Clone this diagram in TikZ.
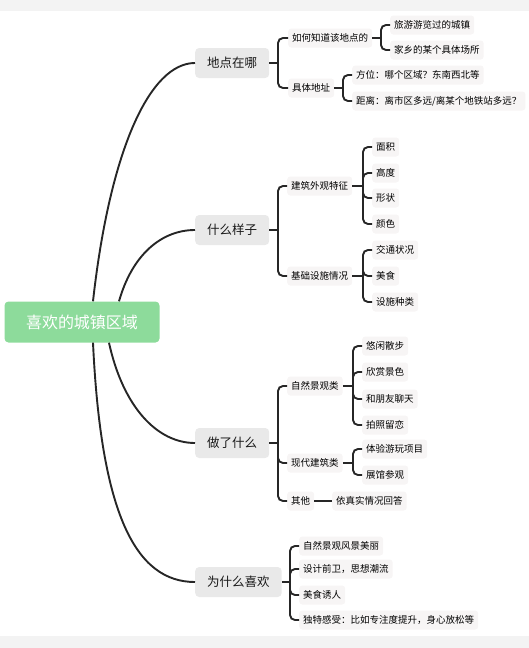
\documentclass[tikz,border=0pt]{standalone}
\usepackage{fontspec}
\setmainfont{Noto Sans CJK SC}
\usetikzlibrary{positioning}

\definecolor{rootgreen}{RGB}{141,219,155}
\definecolor{topicgray}{RGB}{233,233,233}
\definecolor{leafgray}{RGB}{247,245,245}
\definecolor{linegray}{RGB}{38,38,38}
\definecolor{bandgray}{RGB}{243,243,243}

\tikzset{
  root/.style = {fill = rootgreen, text = white, rounded corners = 4pt,
                 minimum width = 155pt, minimum height = 41pt,
                 font = \fontsize{16}{16}\selectfont},
  topic/.style = {fill = topicgray, text = black!90, rounded corners = 4pt,
                  anchor = west, inner xsep = 12pt, minimum height = 30pt,
                  font = \fontsize{12.5}{12.5}\selectfont},
  leaf/.style = {fill = leafgray, text = black, rounded corners = 3pt,
                 anchor = west, inner xsep = 4pt, minimum height = 19pt,
                 font = \fontsize{9.5}{9.5}\selectfont},
  link/.style = {draw = linegray, line width = 1.9pt, rounded corners = 5pt}
}

\begin{document}
\begin{tikzpicture}[x = 1pt, y = -1pt]
  \useasboundingbox (0,0) rectangle (529,648);
  \fill [bandgray] (0,0) rectangle (529,11);
  \fill [bandgray] (0,636) rectangle (529,648);

  \node [root] (root) at (82,322) {喜欢的城镇区域};

  % first level
  \node [topic] (where) at (195,63) {地点在哪};
  \node [topic] (look) at (195,230) {什么样子};
  \node [topic] (did) at (195,443) {做了什么};
  \node [topic] (why) at (195,582) {为什么喜欢};

  \draw [link] ([xshift = 11pt] root.north) .. controls +(17,-152) and +(-45,0) .. (where.west);
  \draw [link] ([xshift = 37pt] root.north) .. controls +(13,-46) and +(-34,0) .. (look.west);
  \draw [link] ([xshift = 27pt] root.south) .. controls +(14,64) and +(-38,0) .. (did.west);
  \draw [link] ([xshift = 11pt] root.south) .. controls +(8,170) and +(-60,0) .. (why.west);

  % 地点在哪
  \node [leaf] (where-a) at (288,38) {如何知道该地点的};
  \node [leaf] (where-b) at (288,88) {具体地址};
  \node [leaf] (where-a1) at (390,25) {旅游游览过的城镇};
  \node [leaf] (where-a2) at (390,50) {家乡的某个具体场所};
  \node [leaf] (where-b1) at (352,75) {方位：哪个区域？东南西北等};
  \node [leaf] (where-b2) at (352,101) {距离：离市区多远/离某个地铁站多远？};

  \coordinate (where-j) at (278,63);
  \coordinate (where-aj) at (381,38);
  \coordinate (where-bj) at (343,88);
  \draw [link] (where.east) -- (where-j);
  \draw [link] (where-a.east) -- (where-aj);
  \draw [link] (where-b.east) -- (where-bj);
  \foreach \n in {where-a, where-b} \draw [link] (where-j) |- (\n.west);
  \foreach \n in {where-a1, where-a2} \draw [link] (where-aj) |- (\n.west);
  \foreach \n in {where-b1, where-b2} \draw [link] (where-bj) |- (\n.west);

  % 什么样子
  \node [leaf] (look-a) at (287,186) {建筑外观特征};
  \node [leaf] (look-b) at (287,276) {基础设施情况};
  \node [leaf] (look-a1) at (372,147) {面积};
  \node [leaf] (look-a2) at (372,173) {高度};
  \node [leaf] (look-a3) at (372,198) {形状};
  \node [leaf] (look-a4) at (372,224) {颜色};
  \node [leaf] (look-b1) at (372,250) {交通状况};
  \node [leaf] (look-b2) at (372,276) {美食};
  \node [leaf] (look-b3) at (372,302) {设施种类};

  \coordinate (look-j) at (278,230);
  \coordinate (look-aj) at (363,186);
  \coordinate (look-bj) at (363,276);
  \draw [link] (look.east) -- (look-j);
  \draw [link] (look-a.east) -- (look-aj);
  \draw [link] (look-b.east) -- (look-bj);
  \foreach \n in {look-a, look-b} \draw [link] (look-j) |- (\n.west);
  \foreach \n in {look-a1, look-a2, look-a3, look-a4} \draw [link] (look-aj) |- (\n.west);
  \foreach \n in {look-b1, look-b2, look-b3} \draw [link] (look-bj) |- (\n.west);

  % 做了什么
  \node [leaf] (did-a) at (287,386) {自然景观类};
  \node [leaf] (did-b) at (287,463) {现代建筑类};
  \node [leaf] (did-c) at (287,501) {其他};
  \node [leaf] (did-a1) at (362,346) {悠闲散步};
  \node [leaf] (did-a2) at (362,372) {欣赏景色};
  \node [leaf] (did-a3) at (362,399) {和朋友聊天};
  \node [leaf] (did-a4) at (362,425) {拍照留恋};
  \node [leaf] (did-b1) at (362,449) {体验游玩项目};
  \node [leaf] (did-b2) at (362,475) {展馆参观};
  \node [leaf] (did-c1) at (332,501) {依真实情况回答};

  \coordinate (did-j) at (278,443);
  \coordinate (did-aj) at (353,386);
  \coordinate (did-bj) at (353,463);
  \draw [link] (did.east) -- (did-j);
  \draw [link] (did-a.east) -- (did-aj);
  \draw [link] (did-b.east) -- (did-bj);
  \draw [link] (did-c.east) -- (did-c1.west);
  \foreach \n in {did-a, did-b, did-c} \draw [link] (did-j) |- (\n.west);
  \foreach \n in {did-a1, did-a2, did-a3, did-a4} \draw [link] (did-aj) |- (\n.west);
  \foreach \n in {did-b1, did-b2} \draw [link] (did-bj) |- (\n.west);

  % 为什么喜欢
  \node [leaf] (why-a) at (299,546) {自然景观风景美丽};
  \node [leaf] (why-b) at (299,569) {设计前卫，思想潮流};
  \node [leaf] (why-c) at (299,595) {美食诱人};
  \node [leaf] (why-d) at (299,620) {独特感受：比如专注度提升，身心放松等};

  \coordinate (why-j) at (290,582);
  \draw [link] (why.east) -- (why-j);
  \foreach \n in {why-a, why-b, why-c, why-d} \draw [link] (why-j) |- (\n.west);
\end{tikzpicture}
\end{document}
